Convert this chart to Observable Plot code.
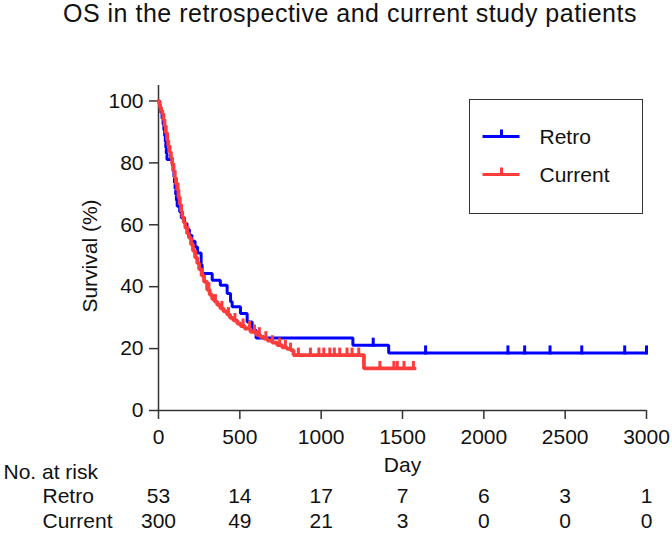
<!DOCTYPE html>
<html>
<head>
<meta charset="utf-8">
<script src="https://cdn.jsdelivr.net/npm/d3@7"></script>
<script src="https://cdn.jsdelivr.net/npm/@observablehq/plot@0.6"></script>
<style>
  body { margin: 0; background: #fff; }
  #wrap { position: relative; width: 672px; height: 533px; overflow: hidden; font-family: "Liberation Sans", Arial, sans-serif; }
  #title { position: absolute; left: 63px; top: 0; font-size: 25px; line-height: 26px; letter-spacing: 0.5px; color: #111; white-space: nowrap; }
  #chart { position: absolute; left: 0; top: 0; }
  #legend { position: absolute; left: 469px; top: 99px; width: 174px; height: 115px; box-sizing: border-box; border: 1.5px solid #333; background: #fff; }
  #legend svg { position: absolute; left: 0; top: 0; }
</style>
</head>
<body>
<div id="wrap">
  <div id="chart"></div>
  <div id="title">OS in the retrospective and current study patients</div>
  <div id="legend"></div>
</div>
<script>
// ---- data ----
const seriesNames = ["Retro", "Current"];
const seriesColors = ["#0000ff", "#ff3c3c"];

// Retro (n=53) Kaplan-Meier steps: day, survival %
const retroDays = [0, 8, 15, 22, 28, 33, 38, 42, 45, 48, 52, 85, 90, 95, 98, 102, 106, 110, 115, 130, 140, 160, 175, 190, 205, 225, 240, 262, 268, 330, 380, 422, 443, 453, 504, 545, 576, 600, 1195, 1415, 3000];
const retroSurv = [100, 98.1, 96.2, 94.3, 92.5, 90.6, 88.7, 86.8, 84.9, 83.0, 81.1, 79.2, 77.4, 75.5, 73.6, 71.7, 69.8, 67.9, 66.0, 64.2, 62.3, 60.4, 58.5, 56.6, 54.7, 52.8, 50.9, 47.1, 44.3, 42.1, 40.5, 37.8, 35.1, 33.5, 31.3, 28.6, 25.9, 23.4, 21.1, 18.6, 18.6];
const retroCensored = [1320, 1642, 2148, 2251, 2407, 2602, 2866, 3000];

// Current (n=300) Kaplan-Meier steps: day, survival %
const currentDays = [0, 5, 10, 16, 23, 30, 37, 45, 53, 60, 68, 76, 84, 92, 100, 108, 115, 123, 131, 139, 146, 155, 165, 176, 187, 200, 212, 225, 238, 250, 265, 280, 299, 315, 330, 345, 361, 380, 400, 422, 440, 460, 484, 505, 530, 566, 600, 625, 648, 670, 700, 730, 760, 790, 812, 830, 1263, 1575];
const currentSurv = [100, 99, 98, 97, 95.9, 94, 92, 89.7, 87.3, 85.5, 83.5, 81.6, 79.8, 77.5, 75.2, 73.1, 71.2, 68.9, 66.6, 64.4, 62.5, 60.8, 59, 57.2, 55.8, 53.6, 51.6, 49.4, 47.6, 45.6, 43.6, 41.6, 39, 37.4, 36, 35.2, 34.1, 33, 32, 31, 29.9, 29.1, 28.1, 27.3, 26.5, 25.4, 24.5, 23.8, 23.2, 22.6, 21.9, 21.1, 20.4, 19.9, 19.5, 17.9, 13.6, 13.6];
const currentCensored = [120, 180, 230, 270, 310, 350, 390, 430, 470, 520, 560, 590, 620, 660, 700, 745, 780, 812, 860, 934, 986, 1016, 1053, 1081, 1114, 1159, 1190, 1231, 1361, 1447, 1468, 1509, 1567];

// axis ticks and number-at-risk table
const xTicks = [0, 500, 1000, 1500, 2000, 2500, 3000];
const yTicks = [0, 20, 40, 60, 80, 100];
const riskDays = [0, 500, 1000, 1500, 2000, 2500, 3000];
const retroRisk = [53, 14, 17, 7, 6, 3, 1];
const currentRisk = [300, 49, 21, 3, 0, 0, 0];

// ---- build tables ----
const toRows = (days, surv) => days.map((d, i) => ({day: d, surv: surv[i]}));
const retro = toRows(retroDays, retroSurv);
const current = toRows(currentDays, currentSurv);
function survAt(rows, day) {
  let v = rows[0].surv;
  for (const r of rows) { if (r.day <= day) v = r.surv; else break; }
  return v;
}
const retroTicks = retroCensored.map(d => ({day: d, surv: survAt(retro, d)}));
const currentTicks = currentCensored.map(d => ({day: d, surv: survAt(current, d)}));
const risk = riskDays.map((d, i) => ({day: d, retro: retroRisk[i], current: currentRisk[i]}));

const FONT = '"Liberation Sans", Arial, sans-serif';
const axisColor = "#333";
const textColor = "#111";

const chart = Plot.plot({
  width: 672,
  height: 533,
  marginTop: 85,
  marginBottom: 123,
  marginLeft: 158,
  marginRight: 26,
  style: {fontFamily: FONT, fontSize: "21px", color: textColor, background: "transparent", overflow: "visible"},
  x: {domain: [0, 3000]},
  y: {domain: [0, 105]},
  marks: [
    Plot.axisX({ticks: xTicks, tickFormat: d => String(d), tickSize: 9, tickPadding: 10, label: null, stroke: axisColor, strokeWidth: 1.5, fill: textColor}),
    Plot.axisY({ticks: yTicks, tickFormat: d => String(d), tickSize: 9, tickPadding: 6, label: null, stroke: axisColor, strokeWidth: 1.5, fill: textColor}),
    Plot.ruleX([0], {stroke: axisColor, strokeWidth: 1.5}),
    Plot.ruleY([0], {stroke: axisColor, strokeWidth: 1.5}),
    Plot.line(retro, {x: "day", y: "surv", curve: "step-after", stroke: seriesColors[0], strokeWidth: 3, strokeLinejoin: "miter"}),
    Plot.ruleX(retroTicks, {x: "day", y1: "surv", y2: "surv", insetTop: -7, insetBottom: -2, stroke: seriesColors[0], strokeWidth: 3}),
    Plot.line(current, {x: "day", y: "surv", curve: "step-after", stroke: seriesColors[1], strokeWidth: 3.8, strokeLinejoin: "miter"}),
    Plot.ruleX(currentTicks, {x: "day", y1: "surv", y2: "surv", insetTop: -7, insetBottom: -1, stroke: seriesColors[1], strokeWidth: 3}),
    // axis titles
    Plot.text(["Day"], {text: d => d, frameAnchor: "bottom", dy: 55, lineAnchor: "middle", fill: textColor}),
    Plot.text(["Survival (%)"], {text: d => d, frameAnchor: "left", rotate: -90, dx: -68, dy: 8, textAnchor: "middle", lineAnchor: "middle", fill: textColor}),
    // number at risk table
    Plot.text(["No. at risk"], {text: d => d, frameAnchor: "bottom-left", dx: -155, dy: 62, textAnchor: "start", lineAnchor: "middle", fill: textColor}),
    Plot.text([seriesNames[0]], {text: d => d, frameAnchor: "bottom-left", dx: -116, dy: 86, textAnchor: "start", lineAnchor: "middle", fill: textColor}),
    Plot.text([seriesNames[1]], {text: d => d, frameAnchor: "bottom-left", dx: -116, dy: 111, textAnchor: "start", lineAnchor: "middle", fill: textColor}),
    Plot.text(risk, {x: "day", text: "retro", frameAnchor: "bottom", dy: 86, lineAnchor: "middle", fill: textColor}),
    Plot.text(risk, {x: "day", text: "current", frameAnchor: "bottom", dy: 111, lineAnchor: "middle", fill: textColor})
  ]
});
document.getElementById("chart").appendChild(chart);

// ---- legend ----
const lg = d3.select("#legend").append("svg").attr("width", 172).attr("height", 112);
seriesNames.forEach((name, i) => {
  const yy = 36.5 + i * 38;
  const g = lg.append("g");
  g.append("line").attr("x1", 12.5).attr("x2", 49.5).attr("y1", yy).attr("y2", yy)
    .attr("stroke", seriesColors[i]).attr("stroke-width", 3);
  g.append("line").attr("x1", 31.5).attr("x2", 31.5).attr("y1", yy - 7).attr("y2", yy)
    .attr("stroke", seriesColors[i]).attr("stroke-width", 3);
  g.append("text").attr("x", 69.5).attr("y", yy + 7).text(name)
    .attr("font-family", FONT).attr("font-size", 21).attr("fill", textColor);
});
</script>
</body>
</html>
